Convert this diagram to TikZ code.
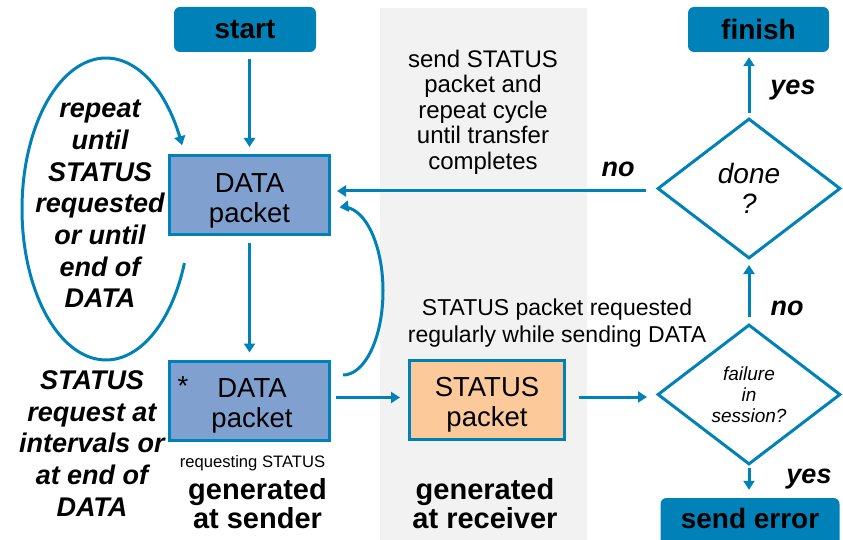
\documentclass[tikz,border=0pt]{standalone}
\usepackage{fontspec}
\setmainfont{Liberation Sans}
\usetikzlibrary{shapes.geometric,arrows.meta}
\definecolor{cblue}{HTML}{0082B8}
\definecolor{dfill}{HTML}{80A1D0}
\definecolor{sfill}{HTML}{FBC99A}
\definecolor{gbg}{HTML}{F2F2F2}
\begin{document}
\begin{tikzpicture}[x=1pt,y=-1pt,
  term/.style={fill=cblue, rounded corners=6pt, inner sep=0pt, font=\fontsize{28}{30}\selectfont\bfseries},
  pkt/.style={draw=cblue, line width=3pt, inner sep=0pt, minimum width=160pt, minimum height=79pt},
  pkttext/.style={inner sep=0pt, align=center, font=\fontsize{27.5}{30}\selectfont},
  dec/.style={diamond, draw=cblue, line width=3pt, inner sep=0pt, aspect=1.3, minimum width=183pt, minimum height=140pt, align=center},
  arr/.style={draw=cblue, line width=3pt, -{Triangle[length=9pt,width=11pt]}},
  lbl/.style={inner sep=0pt, align=center},
  bi/.style={font=\fontsize{27}{31.7}\selectfont\bfseries\itshape},
  bold/.style={font=\fontsize{29}{29}\selectfont\bfseries}
]
\useasboundingbox (0,0) rectangle (843,540);
% grey band
\fill[gbg] (380,8) rectangle (587,545);

% terminals
\node[term, minimum width=142pt, minimum height=45pt] (start) at (245,29.5) {start};
\node[term, minimum width=141pt, minimum height=45pt] (finish) at (758.5,29.5) {finish};
\node[term, anchor=base, text height=30pt, text depth=20pt, minimum width=179pt] (senderr) at (750,528) {send error};

% packets
\node[pkt, fill=dfill] (data1) at (249.5,195) {};
\node[pkttext] (data1t) at (249.5,201) {DATA\\packet};
\node[pkt, fill=dfill] (data2) at (249.5,400.5) {};
\node[pkttext] (data2t) at (252,405.5) {DATA\\packet};
\node[pkt, fill=sfill, minimum width=155pt] (status) at (487,400) {};
\node[pkttext] (statust) at (487,405) {STATUS\\packet};
\node[lbl, anchor=base, font=\fontsize{27.5}{30}\selectfont] (ast) at (183,395) {*};

% decisions
\node[dec, font=\fontsize{28}{30}\selectfont\itshape] (done) at (749,188.5) {done\\?};
\node[dec, font=\fontsize{19}{21}\selectfont\itshape] (fail) at (749,394.5) {failure\\in\\session?};

% connectors
\draw[arr, shorten <=7pt, shorten >=7pt] (start.south -| data1.north) -- (data1.north);
\draw[arr, shorten <=7pt, shorten >=7pt] (data1.south) -- (data2.north);
\draw[arr, shorten <=5pt, shorten >=8pt] ([yshift=3pt]data2.east) -- ([yshift=3pt]data2.east -| status.west);
\draw[arr, shorten <=13pt, shorten >=9pt] ([yshift=3pt]status.east) -- ([yshift=3pt]status.east -| fail.west);
\draw[arr, shorten <=6pt, shorten >=5pt] (fail.north) -- (done.south);
\draw[arr, shorten <=4pt, shorten >=5pt] (done.north) -- (done.north |- finish.south);
\draw[arr, shorten <=10pt, shorten >=6pt] ([yshift=-2.5pt]done.west) -- ([yshift=-2.5pt]done.west -| data1.east);
\draw[arr, shorten <=2pt, shorten >=8pt] (fail.south) -- (fail.south |- senderr.north);

% loops
\draw[arr] plot[smooth, domain=21:335, samples=70, variable=\t] ({106+84*cos(\t)},{209+151*sin(\t)});
\draw[arr] plot[smooth, domain=90:-95, samples=40, variable=\t] ({343+40*cos(\t)},{291+84*sin(\t)});

% texts
\node[lbl, bi] (rep) at (100,204) {repeat\\until\\STATUS\\requested\\or until\\end of\\DATA};
\node[lbl, bi] (reqint) at (92,443.5) {STATUS\\request at\\intervals or\\at end of\\DATA};
\node[lbl, font=\fontsize{24}{25.5}\selectfont] (cycle) at (483,112) {send STATUS\\packet and\\repeat cycle\\until transfer\\completes};
\node[lbl, font=\fontsize{23}{27}\selectfont] (sreq) at (557,323) {STATUS packet requested\\regularly while sending DATA};
\node[lbl, font=\fontsize{16.6}{18}\selectfont] (reqst) at (252.5,463) {requesting STATUS};
\node[lbl, bold] (gsend) at (257.5,504) {generated\\at sender};
\node[lbl, bold] (grecv) at (485,504) {generated\\at receiver};

\node[lbl, bi, anchor=base] (no1) at (618,177) {no};
\node[lbl, bi, anchor=base] (yes1) at (793,95) {yes};
\node[lbl, bi, anchor=base] (no2) at (787,315) {no};
\node[lbl, bi, anchor=base] (yes2) at (809,483) {yes};
\end{tikzpicture}
\end{document}
